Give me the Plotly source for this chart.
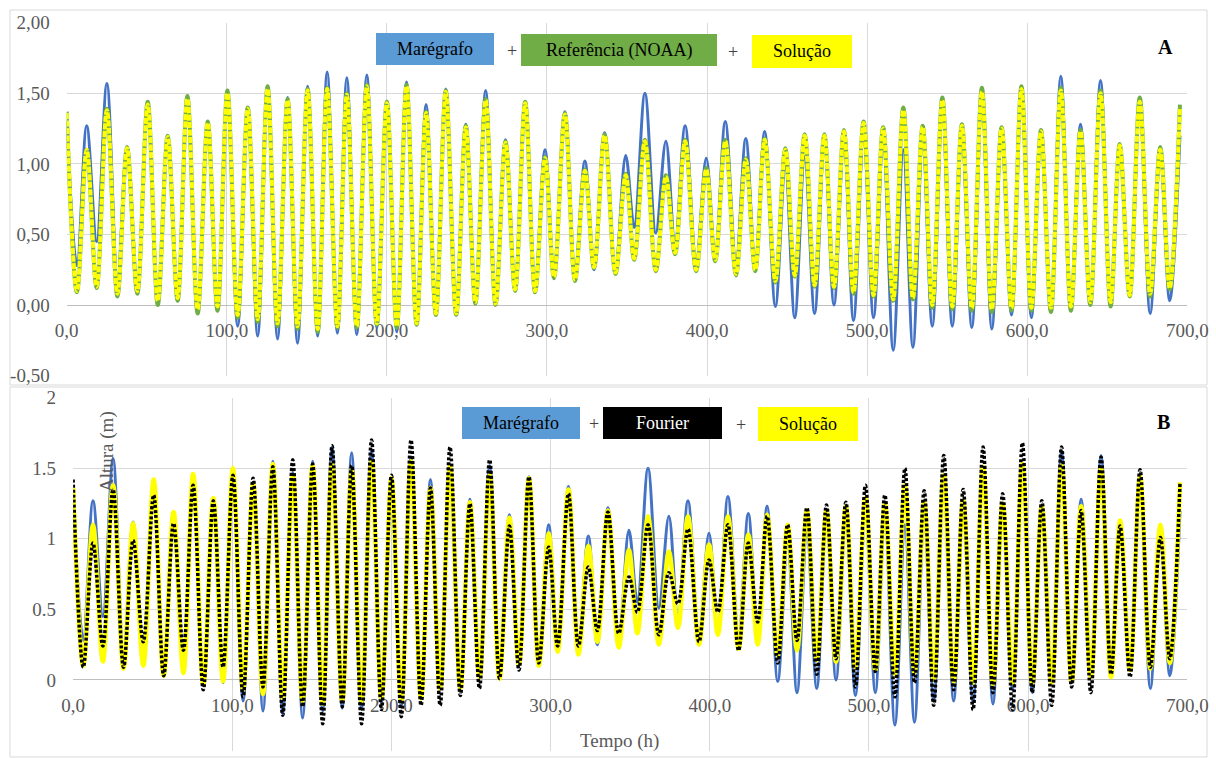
import plotly.graph_objects as go

W, H = 1216, 758

# ---------------- data (times of successive high / low waters, h) ----------------
t_ext = [
    0.0, 6.4, 12.5, 18.7, 25.1, 31.7, 37.7, 44.1, 50.6, 56.9,
    63.1, 69.3, 75.4, 81.8, 88.1, 94.2, 100.4, 106.8, 113.1, 119.3,
    125.5, 131.7, 138.0, 144.2, 150.5, 156.8, 162.7, 169.1, 175.0, 181.2,
    187.5, 193.7, 200.0, 206.2, 212.3, 218.6, 224.5, 230.6, 236.8, 243.3,
    249.3, 255.3, 261.7, 267.9, 274.1, 280.1, 286.4, 292.6, 298.8, 304.4,
    311.2, 317.5, 323.7, 329.4, 336.0, 342.8, 349.2, 354.5, 361.2, 368.0,
    374.3, 380.0, 386.3, 393.2, 399.5, 405.1, 411.4, 418.1, 424.2, 430.1,
    436.0, 442.7, 448.9, 454.8, 461.0, 467.2, 473.3, 479.3, 485.5, 491.5,
    497.8, 504.0, 510.0, 516.3, 522.6, 528.6, 534.7, 540.7, 547.0, 553.2,
    559.2, 565.4, 571.7, 577.9, 584.0, 590.2, 596.4, 602.6, 608.6, 614.8,
    621.0, 627.3, 633.3, 639.4, 645.8, 652.1, 657.8, 664.0, 670.3, 676.8,
    683.1, 689.0, 695.4,
]

# Solução (m)
solucao = [
    1.36, 0.10, 1.10, 0.13, 1.38, 0.08, 1.11, 0.10, 1.42, 0.03,
    1.19, 0.05, 1.46, -0.03, 1.29, -0.01, 1.50, -0.07, 1.39, -0.10,
    1.53, -0.13, 1.45, -0.15, 1.52, -0.17, 1.53, -0.15, 1.49, -0.15,
    1.55, -0.13, 1.43, -0.15, 1.55, -0.13, 1.36, -0.06, 1.51, -0.06,
    1.26, 0.02, 1.45, 0.01, 1.15, 0.11, 1.43, 0.10, 1.04, 0.20,
    1.35, 0.18, 0.95, 0.27, 1.20, 0.23, 0.92, 0.33, 1.16, 0.25,
    0.91, 0.37, 1.16, 0.25, 0.96, 0.32, 1.16, 0.22, 1.03, 0.25,
    1.17, 0.17, 1.10, 0.21, 1.20, 0.14, 1.20, 0.13, 1.23, 0.09,
    1.29, 0.07, 1.25, 0.04, 1.38, 0.05, 1.26, 0.00, 1.45, -0.01,
    1.27, -0.02, 1.51, -0.03, 1.25, -0.02, 1.53, -0.02, 1.23, -0.02,
    1.52, -0.01, 1.23, 0.02, 1.50, 0.02, 1.13, 0.07, 1.44, 0.08,
    1.10, 0.12, 1.40,
]

# Referência (NOAA) (m)
noaa = [
    1.37, 0.09, 1.10, 0.12, 1.39, 0.06, 1.12, 0.08, 1.44, 0.00,
    1.20, 0.03, 1.48, -0.06, 1.30, -0.04, 1.52, -0.09, 1.40, -0.12,
    1.55, -0.15, 1.46, -0.17, 1.53, -0.19, 1.54, -0.16, 1.50, -0.16,
    1.56, -0.14, 1.44, -0.16, 1.56, -0.14, 1.37, -0.07, 1.52, -0.07,
    1.27, 0.01, 1.46, 0.00, 1.16, 0.10, 1.44, 0.09, 1.05, 0.19,
    1.36, 0.17, 0.96, 0.26, 1.21, 0.22, 0.93, 0.32, 1.17, 0.24,
    0.92, 0.36, 1.17, 0.24, 0.97, 0.31, 1.17, 0.21, 1.04, 0.24,
    1.18, 0.16, 1.11, 0.20, 1.21, 0.13, 1.21, 0.12, 1.24, 0.08,
    1.30, 0.06, 1.26, 0.03, 1.40, 0.04, 1.27, -0.02, 1.47, -0.03,
    1.28, -0.04, 1.54, -0.05, 1.26, -0.04, 1.55, -0.04, 1.24, -0.05,
    1.54, -0.04, 1.24, 0.00, 1.52, -0.01, 1.14, 0.06, 1.47, 0.06,
    1.12, 0.11, 1.42,
]

# Marégrafo (m)
maregrafo = [
    1.30, 0.28, 1.27, 0.45, 1.57, 0.18, 1.12, 0.14, 1.40, 0.05,
    1.18, 0.06, 1.43, -0.02, 1.29, -0.02, 1.48, -0.15, 1.38, -0.22,
    1.55, -0.24, 1.47, -0.27, 1.55, -0.22, 1.65, -0.20, 1.61, -0.21,
    1.63, -0.16, 1.43, -0.19, 1.58, -0.12, 1.42, -0.05, 1.53, -0.05,
    1.28, 0.02, 1.52, 0.02, 1.17, 0.12, 1.44, 0.12, 1.10, 0.20,
    1.37, 0.22, 1.02, 0.25, 1.22, 0.26, 1.06, 0.55, 1.50, 0.51,
    1.16, 0.43, 1.27, 0.30, 1.04, 0.35, 1.30, 0.30, 1.18, 0.28,
    1.23, -0.01, 0.98, -0.09, 1.05, -0.06, 1.16, 0.00, 1.17, -0.11,
    1.19, -0.09, 1.17, -0.32, 1.10, -0.30, 1.16, -0.15, 1.37, -0.15,
    1.20, -0.16, 1.45, -0.17, 1.20, -0.07, 1.50, -0.09, 1.22, -0.01,
    1.62, 0.00, 1.28, 0.03, 1.59, 0.03, 1.12, 0.08, 1.43, -0.06,
    1.05, 0.03, 1.20,
]

# Fourier (m)
fourier = [
    1.42, 0.09, 0.97, 0.24, 1.35, 0.09, 0.99, 0.27, 1.31, 0.03,
    1.11, 0.21, 1.38, -0.07, 1.27, 0.09, 1.45, -0.12, 1.43, -0.05,
    1.51, -0.25, 1.56, -0.19, 1.53, -0.31, 1.66, -0.19, 1.52, -0.31,
    1.70, -0.21, 1.45, -0.26, 1.70, -0.18, 1.36, -0.18, 1.65, -0.11,
    1.25, -0.06, 1.56, 0.01, 1.09, 0.07, 1.44, 0.12, 0.94, 0.24,
    1.32, 0.24, 0.80, 0.35, 1.19, 0.33, 0.73, 0.48, 1.10, 0.32,
    0.76, 0.54, 1.07, 0.27, 0.85, 0.48, 1.10, 0.21, 0.97, 0.41,
    1.16, 0.12, 1.10, 0.28, 1.22, 0.04, 1.24, 0.15, 1.26, -0.05,
    1.38, 0.06, 1.31, -0.12, 1.50, -0.02, 1.34, -0.18, 1.59, -0.07,
    1.35, -0.21, 1.65, -0.09, 1.32, -0.21, 1.68, -0.09, 1.27, -0.18,
    1.65, -0.05, 1.20, -0.09, 1.58, 0.04, 1.09, 0.02, 1.49, 0.09,
    1.01, 0.15, 1.39,
]

x_ticks = [0, 100, 200, 300, 400, 500, 600, 700]
x_tick_labels = ["0,0", "100,0", "200,0", "300,0", "400,0", "500,0", "600,0", "700,0"]
y_ticks = [-0.5, 0, 0.5, 1, 1.5, 2]
y_tick_labels_a = ["-0,50", "0,00", "0,50", "1,00", "1,50", "2,00"]
y_tick_labels_b = ["-0.5", "0", "0.5", "1", "1.5", "2"]

for _name, _s in [("solucao", solucao), ("noaa", noaa), ("maregrafo", maregrafo), ("fourier", fourier)]:
    if len(_s) != len(t_ext):
        raise ValueError(f"{_name}: {len(_s)} != {len(t_ext)}")

# ---------------- styling ----------------
BLUE = "#4472c4"
BLUE_BOX = "#5b9bd5"
GREEN = "#70ad47"
YELLOW = "#ffff00"
BLACK = "#000000"
GRID = "#d9d9d9"
TXT = "#595959"
FONT = "Liberation Serif"


def px(x):
    return x / W


def py(y):
    return 1 - y / H


fig = go.Figure()

# Panel A
fig.add_trace(go.Scatter(x=t_ext, y=maregrafo, mode="lines", xaxis="x", yaxis="y",
                         line=dict(color=BLUE, width=3, shape="spline"), hoverinfo="skip"))
fig.add_trace(go.Scatter(x=t_ext, y=noaa, mode="lines", xaxis="x", yaxis="y",
                         line=dict(color=GREEN, width=4, shape="spline"), hoverinfo="skip"))
fig.add_trace(go.Scatter(x=t_ext, y=solucao, mode="lines", xaxis="x", yaxis="y",
                         line=dict(color=YELLOW, width=4, shape="spline", dash="6px,1.5px"),
                         hoverinfo="skip"))

# Panel B
fig.add_trace(go.Scatter(x=t_ext, y=maregrafo, mode="lines", xaxis="x2", yaxis="y2",
                         line=dict(color=BLUE, width=3, shape="spline"), hoverinfo="skip"))
fig.add_trace(go.Scatter(x=t_ext, y=solucao, mode="lines", xaxis="x2", yaxis="y2",
                         line=dict(color=YELLOW, width=4.5, shape="spline"), hoverinfo="skip"))
fig.add_trace(go.Scatter(x=t_ext, y=fourier, mode="lines", xaxis="x2", yaxis="y2",
                         line=dict(color=BLACK, width=3.5, shape="spline", dash="3px,2px"),
                         hoverinfo="skip"))

tickfont = dict(family=FONT, size=19, color=TXT)

xcommon = dict(range=[0, 700], tickvals=x_ticks, ticktext=x_tick_labels, showgrid=True,
               gridcolor=GRID, gridwidth=1, zeroline=False, showline=False, ticks="",
               tickfont=tickfont, ticklabelstandoff=12, layer="below traces", fixedrange=True,
               automargin=False)
ycommon = dict(range=[-0.5, 2.0], tickvals=y_ticks, showgrid=True, gridcolor=GRID, gridwidth=1,
               zeroline=True, zerolinecolor="#bfbfbf", zerolinewidth=1, showline=False, ticks="",
               tickfont=tickfont, ticklabelstandoff=16, fixedrange=True, automargin=False)

fig.update_layout(
    width=W, height=H, autosize=False,
    margin=dict(l=0, r=0, t=0, b=0, pad=0),
    paper_bgcolor="white", plot_bgcolor="white",
    showlegend=False,
    xaxis=dict(domain=[px(66.7), px(1187.3)], anchor="free", position=py(305), **xcommon),
    yaxis=dict(domain=[py(375.6), py(22.7)], anchor="x", ticktext=y_tick_labels_a, **ycommon),
    xaxis2=dict(domain=[px(73.1), px(1187.3)], anchor="free", position=py(680), **xcommon),
    yaxis2=dict(domain=[py(750.5), py(397.7)], anchor="x2", ticktext=y_tick_labels_b, **ycommon),
)

shapes = []
# outer frames
for (x0, y0, x1, y1) in [(10, 10, 1207, 385), (10, 387, 1207, 757)]:
    shapes.append(dict(type="rect", xref="paper", yref="paper", x0=px(x0), x1=px(x1),
                       y0=py(y1), y1=py(y0), line=dict(color=GRID, width=1), layer="below"))

annotations = []


def legend_box(x0, y0, x1, y1, color, text, tcolor):
    shapes.append(dict(type="rect", xref="paper", yref="paper", x0=px(x0), x1=px(x1),
                       y0=py(y1), y1=py(y0), fillcolor=color, line=dict(width=0), layer="above"))
    annotations.append(dict(x=px((x0 + x1) / 2), y=py((y0 + y1) / 2), xref="paper", yref="paper",
                            text=text, showarrow=False, xanchor="center", yanchor="middle",
                            font=dict(family=FONT, size=18, color=tcolor)))


def plain(x, y, text, size=18, color="#404040", bold=False, angle=0):
    annotations.append(dict(x=px(x), y=py(y), xref="paper", yref="paper",
                            text=f"<b>{text}</b>" if bold else text, showarrow=False,
                            xanchor="center", yanchor="middle", textangle=angle,
                            font=dict(family=FONT, size=size, color=color)))


# Panel A legend
legend_box(376, 33, 494, 65, BLUE_BOX, "Marégrafo", "#000000")
plain(512, 51, "+")
legend_box(521, 34, 717, 66, GREEN, "Referência (NOAA)", "#000000")
plain(733, 52, "+")
legend_box(752, 35, 852, 68, YELLOW, "Solução", "#000000")
plain(1165, 47, "A", size=20, color="#000000", bold=True)

# Panel B legend
legend_box(462, 407, 580, 439, BLUE_BOX, "Marégrafo", "#000000")
plain(594, 424, "+")
legend_box(603, 407, 722, 439, BLACK, "Fourier", "#ffffff")
plain(741, 425, "+")
legend_box(758, 407, 858, 441, YELLOW, "Solução", "#000000")
plain(1163, 422, "B", size=20, color="#000000", bold=True)

# axis titles (panel B)
plain(107, 452, "Altura (m)", size=19, color=TXT, angle=-90)
plain(620, 741, "Tempo (h)", size=19, color=TXT)

fig.update_layout(shapes=shapes, annotations=annotations)

# remove the default page margin so the 1216x758 figure fills the window exactly
fit_page = (
    "document.documentElement.style.margin='0';"
    "document.documentElement.style.overflow='hidden';"
    "document.body.style.margin='0';"
    "document.body.style.padding='0';"
    "document.body.style.overflow='hidden';"
)

fig.write_html("out.html", config={"responsive": False}, post_script=fit_page)
